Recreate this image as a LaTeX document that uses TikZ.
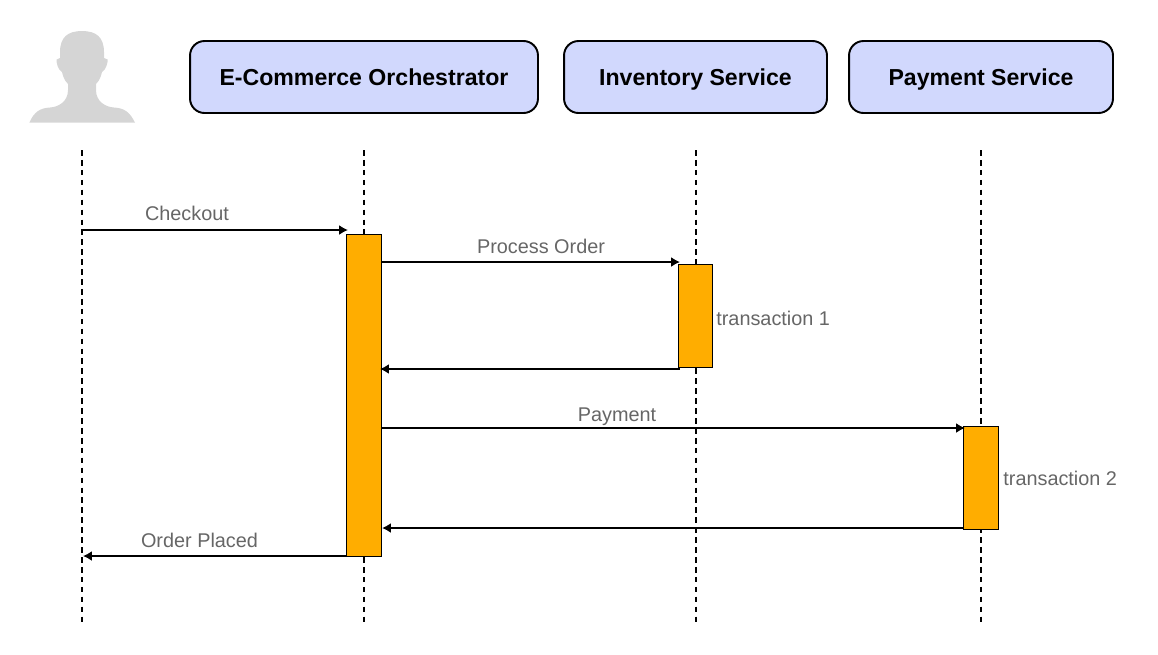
\documentclass[tikz,border=0pt]{standalone}
\usepackage{fontspec}
\setmainfont{Liberation Sans}
\usepackage[rgb]{xcolor}
\definecolor{color1}{RGB}{209,216,253}
\definecolor{color2}{RGB}{255,173,0}
\definecolor{color3}{RGB}{102,102,102}
\definecolor{color4}{RGB}{213,213,213}
\usepackage{tikz}
\usetikzlibrary{arrows.meta}

\begin{document}
\begin{tikzpicture}[x=0.02cm,y=-0.02cm,
  service/.style={draw=black,fill=color1,line width=1.1pt,rounded corners=2.9mm,minimum height=1.44cm,inner sep=0pt,text height=4.1mm,text depth=0.8mm,font=\bfseries\fontsize{13.15}{16}\selectfont},
  activation/.style={draw=black,fill=color2,line width=0.6pt,inner sep=0pt,anchor=north west},
  msglabel/.style={text=color3,inner sep=0pt,anchor=base,font=\fontsize{11.3}{13}\selectfont},
  lifeline/.style={line width=1pt,dash pattern=on 3.2pt off 2.45pt},
  msg/.style={line width=1pt,-{Latex[length=5pt,width=5.6pt]}}
]
\useasboundingbox (0,0) rectangle (1158,654);

% the user
\fill[color4] (29.3,122.7) .. controls (34,112) and (40,108) .. (50,107.5)
  .. controls (58,107) and (68,102) .. (68,90) -- (68,84)
  .. controls (64,80) and (63,76) .. (62,72)
  .. controls (58,70) and (56,62) .. (56.7,59.5) -- (60,58) -- (60,52)
  .. controls (60,37) and (68,31) .. (82,31)
  .. controls (96,31) and (104,37) .. (104,52) -- (104,58) -- (107.7,59.5)
  .. controls (108,62) and (106,70) .. (102,72)
  .. controls (101,76) and (100,80) .. (96,84) -- (96,90)
  .. controls (96,102) and (106,107) .. (114,107.5)
  .. controls (124,108) and (130,112) .. (135,122.7) -- cycle;

% the services
\node[service,minimum width=6.96cm] (orch) at (364,77) {E-Commerce Orchestrator};
\node[service,minimum width=5.26cm] (inv) at (695.5,77) {Inventory Service};
\node[service,minimum width=5.28cm] (pay) at (981,77) {Payment Service};

% the lifelines
\foreach \name/\x in {user/82,orch/364,inv/696,pay/981} {
    \coordinate (\name top) at (\x,150);
    \coordinate (\name bot) at (\x,622);
    \draw[lifeline] (\name top) -- (\name bot);
}

% the activations
\node[activation,minimum width=0.7cm,minimum height=6.44cm] (orchbar) at (346,234) {};
\node[activation,minimum width=0.68cm,minimum height=2.06cm] (invbar) at (678,264) {};
\node[activation,minimum width=0.7cm,minimum height=2.06cm] (paybar) at (963,426) {};

% the free ends of the messages
\coordinate (m1a) at (82,230);
\coordinate (m1b) at (348,230);
\coordinate (m2a) at (381,262);
\coordinate (m2b) at (680,262);
\coordinate (m3a) at (680,369);
\coordinate (m3b) at (380,369);
\coordinate (m4a) at (381,428);
\coordinate (m4b) at (965,428);
\coordinate (m5a) at (964,528);
\coordinate (m5b) at (382,528);
\coordinate (m6a) at (347,556);
\coordinate (m6b) at (83,556);

% the messages
\foreach \i in {1,2,...,6}
    \draw[msg] (m\i a) -- (m\i b);

% the labels
\node[msglabel] (checkout) at (187,220) {Checkout};
\node[msglabel] (process) at (541,253) {Process Order};
\node[msglabel] (payment) at (617,421) {Payment};
\node[msglabel] (placed) at (199.5,547) {Order Placed};
\node[msglabel,anchor=base west] (tone) at (716,325) {transaction 1};
\node[msglabel,anchor=base west] (ttwo) at (1003,485) {transaction 2};

\end{tikzpicture}
\end{document}
